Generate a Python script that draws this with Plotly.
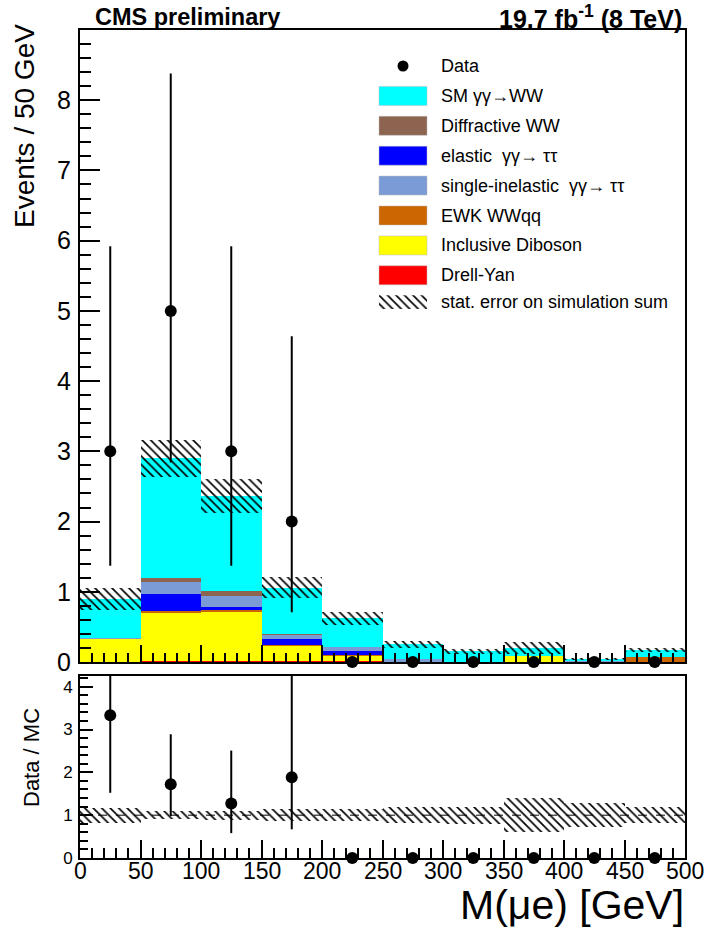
import plotly.graph_objects as go

# ---- binning: M(mu e) in 50 GeV bins ----
bin_edges = [0, 50, 100, 150, 200, 250, 300, 350, 400, 450, 500]
bin_centers = [25, 75, 125, 175, 225, 275, 325, 375, 425, 475]
bin_width = 50
x_tick_labels = [0, 50, 100, 150, 200, 250, 300, 350, 400, 450, 500]
y_tick_labels = [0, 1, 2, 3, 4, 5, 6, 7, 8]
ratio_tick_labels = [0, 1, 2, 3, 4]

# ---- simulated backgrounds (events / bin), stacked bottom -> top ----
drell_yan = [0.00, 0.01, 0.02, 0.01, 0.01, 0.00, 0.00, 0.00, 0.00, 0.00]
diboson = [0.33, 0.70, 0.69, 0.22, 0.08, 0.00, 0.00, 0.085, 0.00, 0.00]
ewk_wwqq = [0.00, 0.01, 0.03, 0.01, 0.01, 0.00, 0.00, 0.00, 0.00, 0.075]
elastic_tautau = [0.00, 0.25, 0.04, 0.09, 0.05, 0.00, 0.00, 0.00, 0.00, 0.00]
inelastic_tautau = [0.01, 0.17, 0.16, 0.06, 0.06, 0.04, 0.00, 0.00, 0.01, 0.00]
diffractive_ww = [0.00, 0.05, 0.065, 0.01, 0.00, 0.00, 0.00, 0.00, 0.00, 0.00]
sm_gg_ww = [0.56, 1.71, 1.355, 0.66, 0.41, 0.21, 0.15, 0.115, 0.03, 0.095]

# statistical uncertainty on the simulation sum
mc_stat_err = [0.16, 0.26, 0.24, 0.15, 0.09, 0.048, 0.03, 0.08, 0.011, 0.032]

# ---- observed data with Poisson intervals ----
data_counts = [3, 5, 3, 2, 0, 0, 0, 0, 0, 0]
data_err_up = [2.92, 3.38, 2.92, 2.64, 0, 0, 0, 0, 0, 0]
data_err_down = [1.63, 2.16, 1.63, 1.29, 0, 0, 0, 0, 0, 0]

components = [
    ("Drell-Yan", drell_yan, "#ff0000"),
    ("Inclusive Diboson", diboson, "#ffff00"),
    ("EWK WWqq", ewk_wwqq, "#cc6600"),
    ("elastic  γγ→ ττ", elastic_tautau, "#0000ff"),
    ("single-inelastic  γγ→ ττ", inelastic_tautau, "#7b9bd6"),
    ("Diffractive WW", diffractive_ww, "#8c6450"),
    ("SM γγ→WW", sm_gg_ww, "#00ffff"),
]

legend_order = [
    ("SM γγ→WW", "#00ffff"),
    ("Diffractive WW", "#8c6450"),
    ("elastic  γγ→ ττ", "#0000ff"),
    ("single-inelastic  γγ→ ττ", "#7b9bd6"),
    ("EWK WWqq", "#cc6600"),
    ("Inclusive Diboson", "#ffff00"),
    ("Drell-Yan", "#ff0000"),
]

FONT = "Liberation Sans, Arial, Helvetica, sans-serif"
W, H = 704, 931
ML, MR, MT, MB = 80, 19, 30, 73
PW, PH = W - ML - MR, H - MT - MB


def px_x(p):
    return (p - ML) / PW


def px_y(p):
    return (H - MB - p) / PH


def add_points(fig, xs, ys, up, down, xaxis, yaxis):
    """Filled circles with vertical error bars; empty bins are drawn unclipped on the axis."""
    filled = [i for i, y in enumerate(data_counts) if y > 0]
    empty = [i for i, y in enumerate(data_counts) if y == 0]
    fig.add_trace(go.Scatter(
        x=[xs[i] for i in filled], y=[ys[i] for i in filled], mode="markers",
        marker=dict(color="black", size=12, symbol="circle"),
        error_y=dict(type="data", symmetric=False, array=[up[i] for i in filled],
                     arrayminus=[down[i] for i in filled], color="black",
                     thickness=2, width=0),
        showlegend=False, xaxis=xaxis, yaxis=yaxis,
    ))
    fig.add_trace(go.Scatter(
        x=[xs[i] for i in empty], y=[ys[i] for i in empty], mode="markers",
        marker=dict(color="black", size=12, symbol="circle"),
        cliponaxis=False, showlegend=False, xaxis=xaxis, yaxis=yaxis,
    ))


fig = go.Figure()

# stacked simulation
cumulative = [0.0] * len(bin_centers)
for name, vals, color in components:
    fig.add_trace(go.Bar(
        x=bin_centers, y=vals, base=list(cumulative), width=bin_width,
        marker=dict(color=color, line=dict(width=0)),
        name=name, showlegend=False, xaxis="x", yaxis="y",
    ))
    cumulative = [c + v for c, v in zip(cumulative, vals)]
mc_total = cumulative

hatch = dict(shape="\\", fillmode="replace", size=6, solidity=0.28)

# stat error band on the stack
fig.add_trace(go.Bar(
    x=bin_centers, y=[2 * e for e in mc_stat_err],
    base=[t - e for t, e in zip(mc_total, mc_stat_err)], width=bin_width,
    marker=dict(color="black", line=dict(width=0), pattern=hatch),
    showlegend=False, xaxis="x", yaxis="y",
))

# data points
add_points(fig, bin_centers, data_counts, data_err_up, data_err_down, "x", "y")

# ---- ratio panel ----
rel_err = [e / t for e, t in zip(mc_stat_err, mc_total)]
fig.add_trace(go.Bar(
    x=bin_centers, y=[2 * r for r in rel_err], base=[1 - r for r in rel_err],
    width=bin_width,
    marker=dict(color="black", line=dict(width=0), pattern=hatch),
    showlegend=False, xaxis="x2", yaxis="y2",
))
ratio = [d / t for d, t in zip(data_counts, mc_total)]
ratio_up = [u / t for u, t in zip(data_err_up, mc_total)]
ratio_down = [dn / t for dn, t in zip(data_err_down, mc_total)]
add_points(fig, bin_centers, ratio, ratio_up, ratio_down, "x2", "y2")

fig.add_shape(type="line", xref="x2", yref="y2", x0=bin_edges[0], x1=bin_edges[-1],
              y0=1, y1=1, line=dict(color="black", width=1, dash="dash"), layer="above")

# ---- legend (drawn by hand: wide swatches) ----
leg_x0, leg_x1 = 379, 427
text_x = 439
row_y0, row_step = 66, 29.9
legend_font = dict(family=FONT, size=18, color="black")
annotations = []

# data marker entry
r = 5.5
fig.add_shape(type="circle", xref="paper", yref="paper",
              x0=px_x(403 - r), x1=px_x(403 + r), y0=px_y(row_y0 + r), y1=px_y(row_y0 - r),
              fillcolor="black", line=dict(color="black", width=0))
annotations.append(dict(x=px_x(text_x), y=px_y(row_y0), text="Data"))

for i, (label, color) in enumerate(legend_order):
    cy = row_y0 + (i + 1) * row_step
    fig.add_shape(type="rect", xref="paper", yref="paper",
                  x0=px_x(leg_x0), x1=px_x(leg_x1), y0=px_y(cy + 9.5), y1=px_y(cy - 9.5),
                  fillcolor=color, line=dict(width=0.5, color="#bbbbbb"))
    annotations.append(dict(x=px_x(text_x), y=px_y(cy), text=label))

hatch_cy = row_y0 + (len(legend_order) + 1) * row_step - 3
annotations.append(dict(x=px_x(text_x), y=px_y(hatch_cy), text="stat. error on simulation sum"))

# hatched swatch drawn on a small hidden axis so it uses the same pattern
fig.add_trace(go.Bar(
    x=[0.5], y=[1], width=1,
    marker=dict(color="black", line=dict(width=0), pattern=hatch),
    showlegend=False, xaxis="x3", yaxis="y3",
))

for a in annotations:
    a.update(xref="paper", yref="paper", xanchor="left", yanchor="middle",
             showarrow=False, font=legend_font)

# x tick labels under the ratio panel
for v in x_tick_labels:
    annotations.append(dict(x=v, y=px_y(871), xref="x2", yref="paper", xanchor="center",
                            yanchor="middle", showarrow=False, text=str(v),
                            font=dict(family=FONT, size=23, color="black")))

# titles and header
annotations += [
    dict(x=px_x(93), y=px_y(17), xref="paper", yref="paper", xanchor="left",
         yanchor="middle", showarrow=False, text="<b>CMS preliminary</b>",
         font=dict(family=FONT, size=23.5, color="black")),
    dict(x=px_x(684), y=px_y(17), xref="paper", yref="paper", xanchor="right",
         yanchor="middle", showarrow=False, text="<b>19.7 fb<sup>-1</sup> (8 TeV)</b>",
         font=dict(family=FONT, size=25, color="black")),
    dict(x=px_x(25), y=px_y(126), xref="paper", yref="paper", xanchor="center",
         yanchor="middle", showarrow=False, textangle=-90, text="Events / 50 GeV",
         font=dict(family=FONT, size=28, color="black")),
    dict(x=px_x(31), y=px_y(758), xref="paper", yref="paper", xanchor="center",
         yanchor="middle", showarrow=False, textangle=-90, text="Data / MC",
         font=dict(family=FONT, size=22, color="black")),
    dict(x=px_x(686), y=px_y(905), xref="paper", yref="paper", xanchor="right",
         yanchor="middle", showarrow=False, text="M(μe) [GeV]",
         font=dict(family=FONT, size=41, color="black")),
]

axis_common = dict(showline=True, linecolor="black", linewidth=2, mirror=True,
                   ticks="inside", tickcolor="black", showgrid=False, zeroline=False)

top_bottom = px_y(662)
ratio_top = px_y(676)

fig.update_layout(
    width=W, height=H,
    margin=dict(l=ML, r=MR, t=MT, b=MB),
    paper_bgcolor="white", plot_bgcolor="white",
    barmode="overlay", bargap=0,
    showlegend=False,
    font=dict(family=FONT, color="black"),
    annotations=annotations,
    xaxis=dict(domain=[0, 1], anchor="y", range=[bin_edges[0], bin_edges[-1]],
               tickvals=x_tick_labels, ticklen=17, tickwidth=1.5, showticklabels=False,
               minor=dict(dtick=10, ticklen=9, ticks="inside", tickcolor="black", tickwidth=1.5),
               **axis_common),
    yaxis=dict(domain=[top_bottom, 1], anchor="x", range=[0, 9.0], tickvals=y_tick_labels,
               ticklen=20, tickwidth=1.5, tickfont=dict(size=25, family=FONT, color="black"),
               ticklabelstandoff=2,
               minor=dict(dtick=0.2, ticklen=11, ticks="inside", tickcolor="black", tickwidth=1.5),
               **axis_common),
    xaxis2=dict(domain=[0, 1], anchor="y2", range=[bin_edges[0], bin_edges[-1]],
                tickvals=x_tick_labels, ticklen=18, tickwidth=1.5, showticklabels=False,
                minor=dict(dtick=10, ticklen=10, ticks="inside", tickcolor="black", tickwidth=1.5),
                **axis_common),
    yaxis2=dict(domain=[0, ratio_top], anchor="x2", range=[0, 4.25], tickvals=ratio_tick_labels,
                ticklen=13, tickwidth=1.5, tickfont=dict(size=17, family=FONT, color="black"),
                ticklabelstandoff=2,
                minor=dict(dtick=0.2, ticklen=8, ticks="inside", tickcolor="black", tickwidth=1.5),
                **axis_common),
    xaxis3=dict(domain=[px_x(leg_x0), px_x(leg_x1)], anchor="y3", range=[0, 1],
                visible=False, fixedrange=True),
    yaxis3=dict(domain=[px_y(hatch_cy + 7), px_y(hatch_cy - 7)], anchor="x3",
                range=[0, 1], visible=False, fixedrange=True),
)

fig.write_html("out.html")
